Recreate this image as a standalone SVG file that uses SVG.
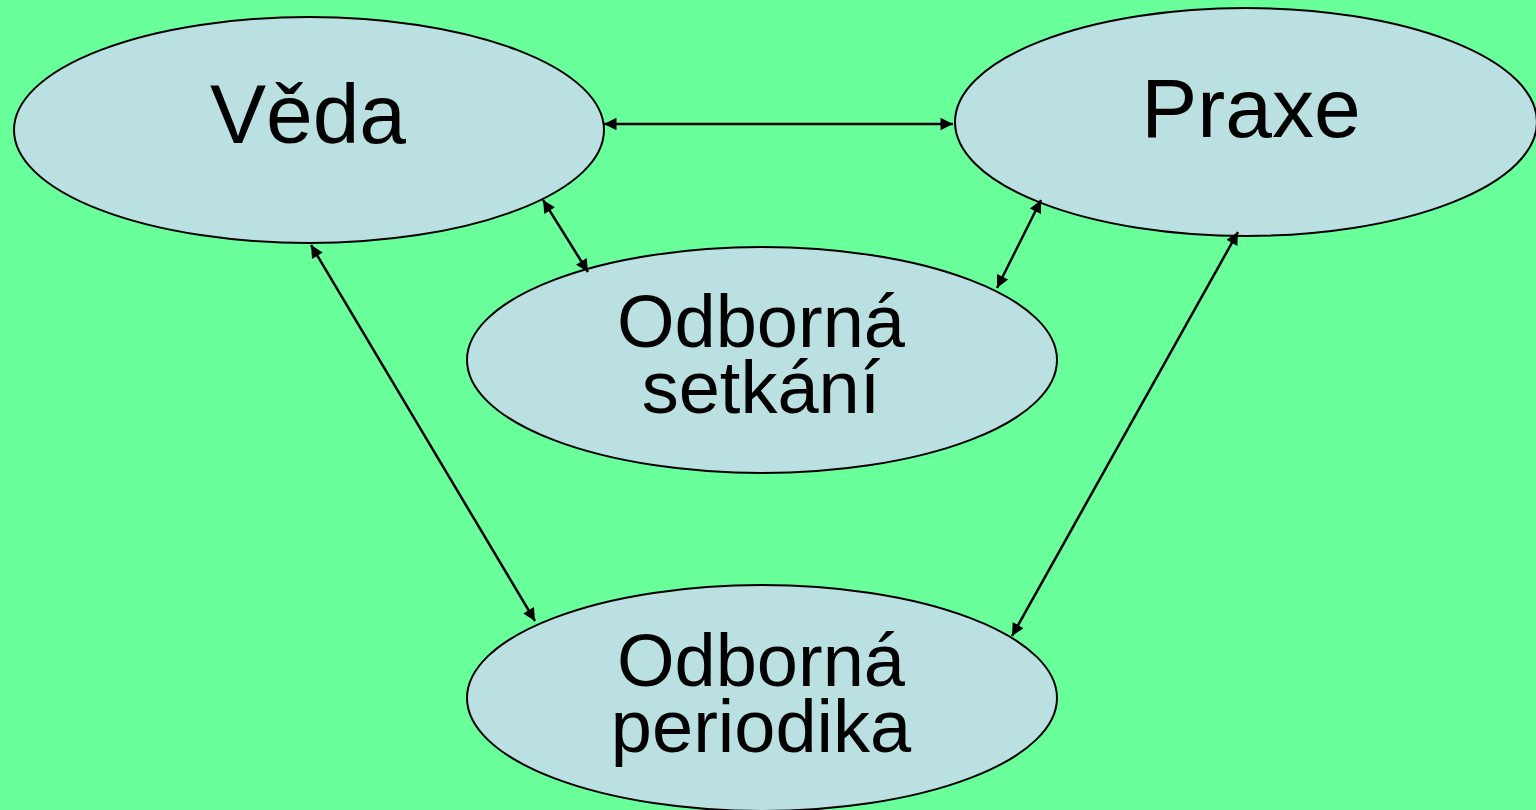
<svg xmlns="http://www.w3.org/2000/svg" width="1536" height="810" viewBox="0 0 1536 810">
  <style>
    .node { fill: #BAE0E2; stroke: #000; stroke-width: 2; }
    .lbl { font-family: "Liberation Sans", Arial, sans-serif; fill: #000; text-anchor: middle; }
    .big { font-size: 84px; }
    .mid { font-size: 74px; }
    .link { stroke: #000; stroke-width: 2.5; fill: none; marker-start: url(#head); marker-end: url(#head); }
  </style>
  <defs>
    <marker id="head" viewBox="0 0 10 10" refX="10" refY="5" markerWidth="6" markerHeight="5" orient="auto-start-reverse" markerUnits="strokeWidth">
      <path d="M0,0 L10,5 L0,10 Z" fill="#000"/>
    </marker>
  </defs>
  <rect width="1536" height="810" fill="#69FF9B"/>

  <g id="veda">
    <ellipse class="node" cx="309" cy="130" rx="295" ry="113"/>
    <text class="lbl big" x="308" y="143">Věda</text>
  </g>
  <g id="praxe">
    <ellipse class="node" cx="1246" cy="122" rx="291" ry="114"/>
    <text class="lbl big" x="1251" y="137">Praxe</text>
  </g>
  <g id="setkani">
    <ellipse class="node" cx="762" cy="360" rx="295" ry="113"/>
    <text class="lbl mid" x="761" y="347">Odborná</text>
    <text class="lbl mid" x="761" y="413">setkání</text>
  </g>
  <g id="periodika">
    <ellipse class="node" cx="762" cy="698" rx="295" ry="113"/>
    <text class="lbl mid" x="761" y="686">Odborná</text>
    <text class="lbl mid" x="761" y="752">periodika</text>
  </g>

  <g id="connectors">
    <line class="link" x1="604" y1="124" x2="953" y2="124"/>
    <line class="link" x1="543" y1="200" x2="588" y2="272"/>
    <line class="link" x1="1041" y1="200" x2="997" y2="288"/>
    <line class="link" x1="311" y1="245" x2="535" y2="621"/>
    <line class="link" x1="1238" y1="232" x2="1012" y2="636"/>
  </g>
</svg>
